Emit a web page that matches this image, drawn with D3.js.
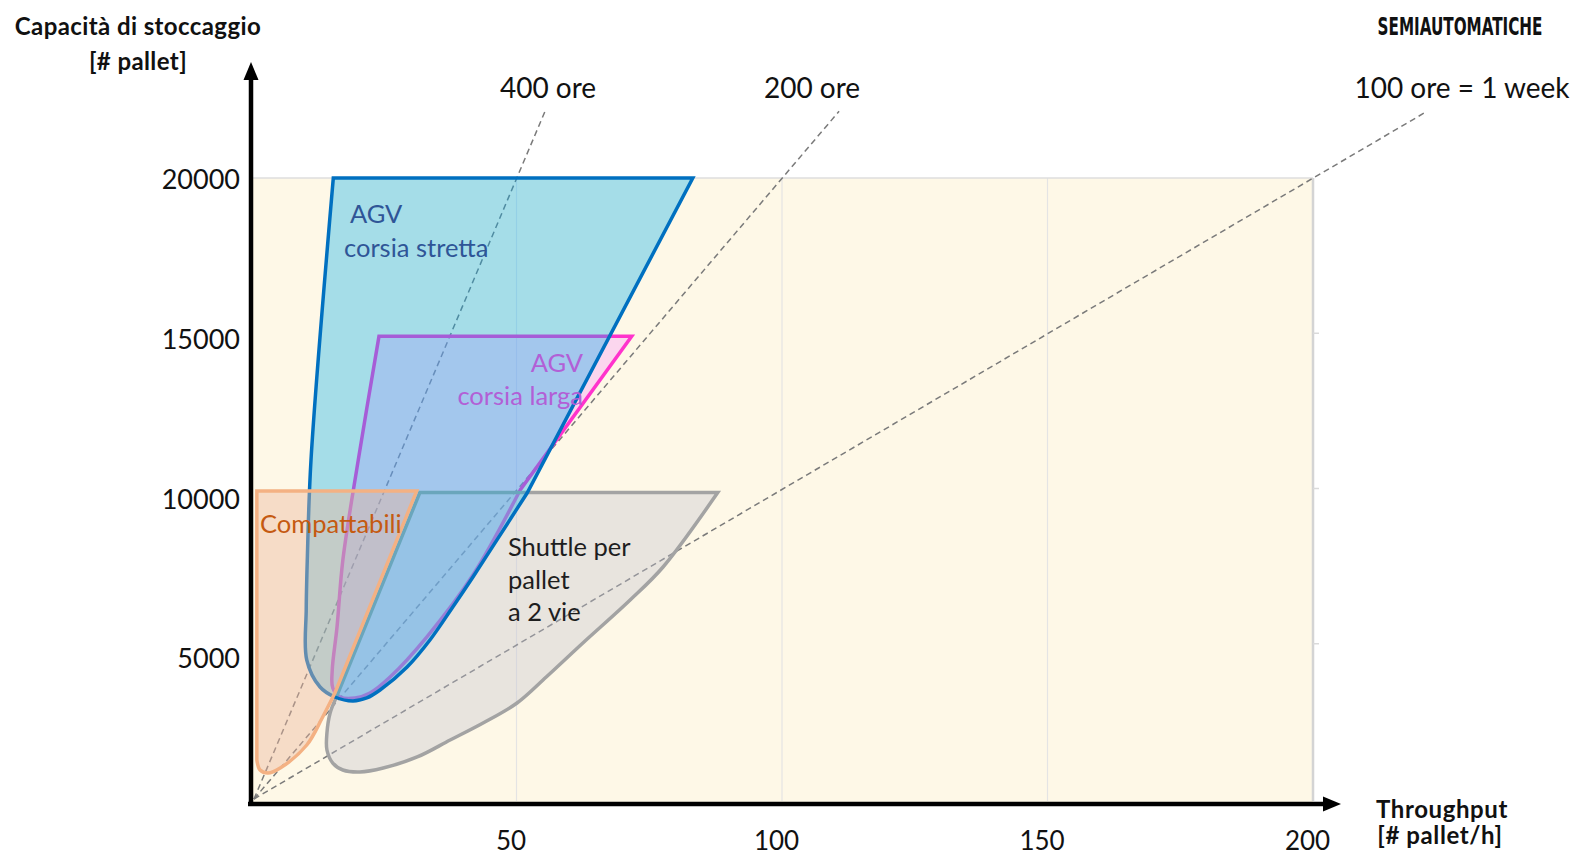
<!DOCTYPE html>
<html>
<head>
<meta charset="utf-8">
<script src="https://cdn.jsdelivr.net/npm/d3@7"></script>
<style>
  html, body { margin: 0; padding: 0; background: #ffffff; }
  svg { display: block; font-family: Lato, "Open Sans", "Noto Sans", sans-serif; }
</style>
</head>
<body>
<svg id="chart" width="1574" height="857"></svg>
<script>
// ---- Axis ticks ----
const xTicks = [50, 100, 150, 200];
const yTicks = [5000, 10000, 15000, 20000];

// ---- Dashed reference lines: capacity = hours x throughput ----
const hourLines = [400, 200, 100];
const hourLabels = ["400 ore", "200 ore", "100 ore = 1 week"];
const hourLineEndCapacity = 22150;

// ---- Technology areas: [throughput pallet/h, capacity pallet] ----
// "edge" = straight sides, "curve" = rounded part leading back to the first edge point

// AGV corsia larga
const agvLargaEdge = [[24.1, 14900], [71.7, 14900], [50.7, 9952]];
const agvLargaCurve = [[50.7, 9952], [41.8, 7214], [33.1, 5217], [26.2, 3929], [22.4, 3414],
  [19.6, 3253], [16.8, 3285], [15.4, 3575], [15.3, 4155], [16.2, 5539], [17.3, 7697],
  [20.2, 10918], [24.1, 14900]];

// Shuttle per pallet a 2 vie
const shuttleEdge = [[16.0, 3253], [31.8, 9870], [87.9, 9870]];
const shuttleCurve = [[87.9, 9870], [77.6, 7472], [71.4, 6409], [62.5, 5024], [55.6, 3929],
  [50.1, 3092], [43.7, 2448], [37.5, 1900], [31.3, 1353], [24.9, 998], [20.5, 870], [17.3, 934],
  [15.4, 1159], [14.3, 1578], [14.3, 2126], [14.9, 2770], [16.0, 3253]];

// AGV corsia stretta
const agvStrettaEdge = [[15.5, 20000], [83.2, 20000], [52.0, 9855]];
const agvStrettaCurve = [[52.0, 9855], [41.8, 7150], [38.0, 6184], [33.7, 5121], [29.4, 4251],
  [24.3, 3510], [21.8, 3253], [19.2, 3156], [15.8, 3285], [13.0, 3607], [10.5, 4477],
  [10.4, 6100], [10.6, 7697], [11.3, 10918], [15.5, 20000]];

// Compattabili
const compattabiliEdge = [[1.1, 1256], [1.1, 9920], [31.2, 9920], [15.8, 3414]];
const compattabiliCurve = [[15.8, 3414], [13.4, 2609], [10.5, 1739], [5.5, 998], [3.2, 837],
  [1.7, 934], [1.1, 1256]];

// ---- Area labels ----
const agvStrettaText = ["AGV", "corsia stretta"];
const agvLargaText = ["AGV", "corsia larga"];
const compattabiliText = ["Compattabili"];
const shuttleText = ["Shuttle per", "pallet", "a 2 vie"];

// ---- Scales ----
const x = d3.scaleLinear().domain([0, 200]).range([251, 1313]);
const y = d3.scaleLinear().domain([0, 20000]).range([799, 178]);
const yLabel = d3.scaleLinear().domain([0, 20000]).range([819, 180]);

const svg = d3.select("#chart");

// plot background
svg.append("rect")
  .attr("x", x(0)).attr("y", y(20000))
  .attr("width", x(200) - x(0)).attr("height", y(0) - y(20000) + 3)
  .attr("fill", "#FEF8E7");

// vertical gridlines
svg.append("g").selectAll("line")
  .data(xTicks.filter(d => d < 200))
  .join("line")
  .attr("x1", d => x(d)).attr("x2", d => x(d))
  .attr("y1", y(20000)).attr("y2", y(0) + 2)
  .attr("stroke", "#E4E4E4").attr("stroke-width", 1.2);

// plot frame (top and right)
svg.append("line")
  .attr("x1", x(0)).attr("x2", x(200))
  .attr("y1", y(20000)).attr("y2", y(20000))
  .attr("stroke", "#DEDEDE").attr("stroke-width", 1.5);
svg.append("line")
  .attr("x1", x(200)).attr("x2", x(200))
  .attr("y1", y(20000)).attr("y2", y(0) + 2)
  .attr("stroke", "#D4D4D4").attr("stroke-width", 2.5);
svg.append("g").selectAll("line")
  .data(yTicks.filter(d => d < 20000))
  .join("line")
  .attr("x1", x(200)).attr("x2", x(200) + 6)
  .attr("y1", d => y(d)).attr("y2", d => y(d))
  .attr("stroke", "#DADADA").attr("stroke-width", 1.5);

// dashed hour lines from the origin
svg.append("g").selectAll("line")
  .data(hourLines)
  .join("line")
  .attr("x1", x(0) + 3).attr("y1", y(0))
  .attr("x2", h => x(hourLineEndCapacity / h))
  .attr("y2", y(hourLineEndCapacity))
  .attr("stroke", "#7A7A7A").attr("stroke-width", 1.5)
  .attr("stroke-dasharray", "6 4");

const hourLabelX = [548, 812, 1462];
svg.append("g").selectAll("text")
  .data(hourLabels)
  .join("text")
  .attr("x", (d, i) => hourLabelX[i]).attr("y", 98)
  .attr("text-anchor", "middle")
  .attr("font-size", 28).attr("fill", "#111")
  .text(d => d);

// ---- areas ----
const straight = d3.line().x(d => x(d[0])).y(d => y(d[1]));
const smooth = d3.line().x(d => x(d[0])).y(d => y(d[1])).curve(d3.curveCatmullRom.alpha(0.5));
function areaPath(edge, curve) {
  return straight(edge) + smooth(curve).replace(/^M[^CLZ]*/, "") + "Z";
}

const areas = [
  { edge: agvLargaEdge, curve: agvLargaCurve, fill: "rgba(245,135,255,0.30)", stroke: "#FF33CC" },
  { edge: shuttleEdge, curve: shuttleCurve, fill: "rgba(195,195,207,0.36)", stroke: "#A3A3A3" },
  { edge: agvStrettaEdge, curve: agvStrettaCurve, fill: "rgba(0,172,236,0.35)", stroke: "#0070C0" },
  { edge: compattabiliEdge, curve: compattabiliCurve, fill: "rgba(237,180,155,0.42)", stroke: "#F4B183" }
];

svg.append("g").selectAll("path")
  .data(areas)
  .join("path")
  .attr("d", d => areaPath(d.edge, d.curve))
  .attr("fill", d => d.fill)
  .attr("stroke", d => d.stroke)
  .attr("stroke-width", 3.5)
  .attr("stroke-linejoin", "miter");

// ---- area labels ----
function multiline(lines, px, baselines, color, anchor) {
  svg.append("g").selectAll("text")
    .data(lines)
    .join("text")
    .attr("x", (d, i) => px[i]).attr("y", (d, i) => baselines[i])
    .attr("text-anchor", anchor)
    .attr("font-size", 25.5).attr("fill", color)
    .text(d => d);
}
multiline(agvStrettaText, [350, 344], [223, 257], "#2F5597", "start");
multiline(agvLargaText, [583, 583], [372, 405], "#B25FD6", "end");
multiline(compattabiliText, [260], [533], "#C55A11", "start");
multiline(shuttleText, [508, 508, 508], [556, 589, 621], "#1E1E1E", "start");

// ---- tick labels ----
const yAxis = svg.append("g")
  .attr("transform", "translate(240,0)")
  .call(d3.axisLeft(yLabel).tickValues(yTicks).tickSize(0).tickPadding(0).tickFormat(d3.format("d")));
yAxis.select(".domain").remove();
yAxis.selectAll("text").attr("font-size", 27).attr("fill", "#111").attr("font-family", "Lato, 'Open Sans', sans-serif");

const xAxis = svg.append("g")
  .attr("transform", "translate(0,832)")
  .call(d3.axisBottom(x).tickValues(xTicks).tickSize(0).tickPadding(0).tickFormat(d3.format("d")));
xAxis.select(".domain").remove();
xAxis.selectAll("text").attr("font-size", 26).attr("fill", "#111").attr("dx", -6)
  .attr("font-family", "Lato, 'Open Sans', sans-serif");

// ---- axis arrows ----
const ax0 = x(0), ay0 = y(0) + 5;
svg.append("line")
  .attr("x1", ax0).attr("x2", ax0).attr("y1", ay0 + 2).attr("y2", 76)
  .attr("stroke", "#000").attr("stroke-width", 4.5);
svg.append("path")
  .attr("d", `M${ax0},62 L${ax0 - 7.5},80 L${ax0 + 7.5},80 Z`)
  .attr("fill", "#000");
svg.append("line")
  .attr("x1", ax0 - 3).attr("x2", 1326).attr("y1", ay0).attr("y2", ay0)
  .attr("stroke", "#000").attr("stroke-width", 4.5);
svg.append("path")
  .attr("d", `M1341,${ay0} L1323,${ay0 - 7.5} L1323,${ay0 + 7.5} Z`)
  .attr("fill", "#000");

// ---- titles ----
function boldText(str, px, py, size, spacing) {
  svg.append("text").attr("x", px).attr("y", py).attr("text-anchor", "middle")
    .attr("font-size", size).attr("font-weight", 700).attr("fill", "#111")
    .attr("letter-spacing", spacing)
    .text(str);
}
boldText("Capacità di stoccaggio", 138, 35, 24, 0.4);
boldText("[# pallet]", 138, 70, 24, 0.4);
boldText("Throughput", 1442, 818, 24, 0.6);
boldText("[# pallet/h]", 1440, 844, 24, 0.6);

// condensed section heading, horizontally squeezed to its box width
const heading = svg.append("text")
  .attr("text-anchor", "middle")
  .attr("font-size", 25).attr("font-weight", 700).attr("fill", "#111")
  .attr("font-family", "'DejaVu Sans Condensed', 'Liberation Sans Narrow', sans-serif")
  .text("SEMIAUTOMATICHE");
const headingWidth = heading.node().getComputedTextLength() || 165;
heading.attr("transform", `translate(1460,35) scale(${165 / headingWidth},1)`);
</script>
</body>
</html>
